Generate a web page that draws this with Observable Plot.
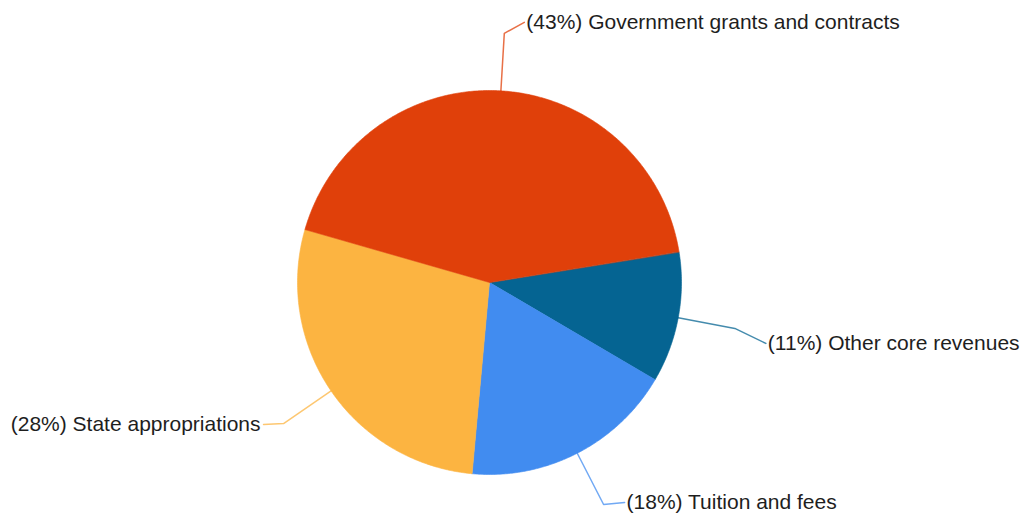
<!DOCTYPE html>
<html><head><meta charset="utf-8">
<script src="https://cdn.jsdelivr.net/npm/d3@7"></script>
<script src="https://cdn.jsdelivr.net/npm/@observablehq/plot@0.6"></script>
<style>html,body{margin:0;padding:0;background:#fff;overflow:hidden}</style>
</head><body><div id="chart"></div>
<script>
// ---- data ----
const categories = ["Other core revenues", "Tuition and fees", "State appropriations", "Government grants and contracts"];
const shares = [11, 18, 28, 43];
const colors = ["#056492", "#418CF0", "#FCB441", "#E0400A"];

// ---- layout ----
const W = 1026, H = 518, CX = 489, CY = 282, R = 192;
const START_DEG = 80.8;
const ELBOW = 1.3;
const labelNudge = [[31, 15], [21, -2], [-20, 1], [20, -11]]; // px, screen coords (dy down)

const a0 = START_DEG * Math.PI / 180;
const arcs = d3.pie().sort(null).value(d => d).startAngle(a0).endAngle(a0 + 2 * Math.PI)(shares);

const slicePts = [];
arcs.forEach((a, i) => {
  const k = categories[i];
  slicePts.push({k, x: 0, y: 0});
  const n = Math.max(2, Math.ceil((a.endAngle - a.startAngle) / (Math.PI / 360)));
  for (let j = 0; j <= n; j++) {
    const t = a.startAngle + (a.endAngle - a.startAngle) * j / n;
    slicePts.push({k, x: Math.sin(t), y: Math.cos(t)});
  }
});

const leaderPts = [];
const labels = [];
arcs.forEach((a, i) => {
  const k = categories[i];
  const m = (a.startAngle + a.endAngle) / 2;
  const ex = ELBOW * Math.sin(m), ey = ELBOW * Math.cos(m);
  const lx = ex + labelNudge[i][0] / R, ly = ey - labelNudge[i][1] / R;
  leaderPts.push({k, x: Math.sin(m), y: Math.cos(m)}, {k, x: ex, y: ey}, {k, x: lx, y: ly});
  labels.push({k, x: lx, y: ly, side: labelNudge[i][0] >= 0 ? "start" : "end", text: `(${shares[i]}%) ${k}`});
});

const xDomain = [-CX / R, (W - CX) / R];
const yDomain = [-(H - CY) / R, CY / R];

const marks = [];
categories.forEach((c, i) => {
  marks.push(Plot.line(slicePts.filter(p => p.k === c), {
    x: "x", y: "y", curve: "linear-closed",
    fill: colors[i], stroke: colors[i], strokeWidth: 0.6
  }));
});
categories.forEach((c, i) => {
  marks.push(Plot.line(leaderPts.filter(p => p.k === c), {
    x: "x", y: "y", stroke: colors[i], strokeOpacity: 0.75, strokeWidth: 1.5, curve: "linear"
  }));
});
marks.push(Plot.text(labels.filter(d => d.side === "start"), {
  x: "x", y: "y", text: "text", textAnchor: "start", dx: 2, fontSize: 21, fill: "#1e1e1e"
}));
marks.push(Plot.text(labels.filter(d => d.side === "end"), {
  x: "x", y: "y", text: "text", textAnchor: "end", dx: -3, fontSize: 21, fill: "#1e1e1e"
}));

const chart = Plot.plot({
  width: W, height: H,
  margin: 0,
  x: {domain: xDomain, axis: null},
  y: {domain: yDomain, axis: null},
  style: {fontFamily: "'Liberation Sans', Arial, sans-serif", background: "#fff"},
  marks
});
document.getElementById("chart").append(chart);
</script>
</body></html>
